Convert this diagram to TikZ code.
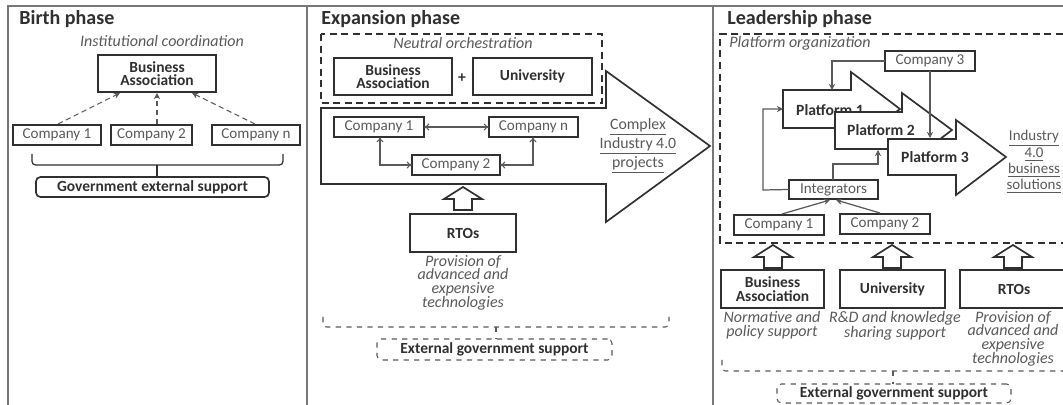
\documentclass[tikz,border=0pt]{standalone}
\usepackage{fontspec}
\setmainfont{Carlito}
\usetikzlibrary{arrows.meta}
\definecolor{ink}{HTML}{303030}
\definecolor{soft}{HTML}{5A5A5A}
\definecolor{rule}{HTML}{777777}
\tikzset{
  x=0.02cm,y=-0.02cm,
  panel/.style={draw=rule,line width=0.7pt},
  outer/.style={draw=ink,line width=0.95pt,fill=white},
  thickbox/.style={draw=ink,line width=0.95pt,fill=white,inner sep=0pt,outer sep=0pt,align=center,text=ink,font=\fontsize{8.8}{7.8}\selectfont\bfseries},
  smallbox/.style={draw=ink,line width=0.9pt,fill=white,inner sep=0pt,outer sep=0pt,align=center,text=soft,font=\fontsize{8.6}{7.8}\selectfont},
  govbox/.style={thickbox,rounded corners=2.5pt},
  dashbox/.style={thickbox,line width=0.6pt,draw=soft,dashed,rounded corners=2.5pt},
  title/.style={anchor=west,inner sep=0pt,text=ink,font=\fontsize{11.4}{12}\selectfont\bfseries},
  note/.style={inner sep=0pt,align=center,text=soft,font=\fontsize{9.1}{7.8}\selectfont\itshape},
  plain/.style={inner sep=0pt,align=center,text=soft,font=\fontsize{9}{7.8}\selectfont},
  plainsmall/.style={plain,font=\fontsize{8.5}{7.8}\selectfont},
  pftext/.style={inner sep=0pt,text=ink,font=\fontsize{8.9}{10}\selectfont\bfseries},
  dashzone/.style={draw=ink,line width=0.95pt,dash pattern=on 4pt off 2.6pt},
  brace/.style={draw=ink,line width=0.7pt,rounded corners=2pt},
  dashbrace/.style={draw=soft,line width=0.6pt,dashed,rounded corners=2pt},
  dasharrow/.style={draw=soft,line width=0.6pt,densely dashed,-{Stealth[length=3.5pt,width=3.5pt]}},
  link/.style={draw=soft,line width=0.7pt,-{Stealth[length=3.5pt,width=3.5pt]}},
  twoway/.style={draw=soft,line width=0.6pt,{To[length=3pt,width=4pt]}-{To[length=3pt,width=4pt]}},
}
\newcommand{\bx}[7][]{%
  \pgfmathsetmacro{\bxcx}{(#3+#5)/2}%
  \pgfmathsetmacro{\bxcy}{(#4+#6)/2}%
  \pgfmathsetmacro{\bxw}{(#5-#3)*0.02}%
  \pgfmathsetmacro{\bxh}{(#6-#4)*0.02}%
  \node[#1,minimum width=\bxw cm,minimum height=\bxh cm] (#2) at (\bxcx,\bxcy) {#7};}
% up arrow: centre x, tip y
\newcommand{\uparrowshape}[2]{%
  \draw[outer,line join=miter] (#1,#2) -- ++(19,12) -- ++(-10,0) -- ++(0,11) -- ++(-18,0) -- ++(0,-11) -- ++(-10,0) -- cycle;}
\begin{document}
\begin{tikzpicture}
\useasboundingbox (0,0) rectangle (1063,405);
\fill[white] (0,0) rectangle (1063,405);
% panel rules
\draw[panel] (8,405) -- (8,6) -- (1063,6);
\draw[panel] (307,6) -- (307,405);
\draw[panel] (713,6) -- (713,405);

% ---------- Birth
\node[title] (t1) at (19,19) {Birth phase};
\node[note] (n1) at (162,41) {Institutional coordination};
\bx[thickbox]{ba1}{98}{55}{216}{92}{Business\\Association}
\bx[smallbox]{c11}{13}{125}{101}{145}{Company 1}
\bx[smallbox]{c12}{111}{125}{192}{145}{Company 2}
\bx[smallbox]{c13}{212}{125}{300}{145}{Company n}
\bx[govbox]{gov1}{36}{177}{269}{197}{Government external support}
\coordinate (a11) at (58,124); \coordinate (a12) at (120,93);
\coordinate (a21) at (157,124); \coordinate (a22) at (157,93);
\coordinate (a31) at (255,124); \coordinate (a32) at (192,93);
\draw[dasharrow] (a11) -- (a12);
\draw[dasharrow] (a21) -- (a22);
\draw[dasharrow] (a31) -- (a32);
\coordinate (b1l) at (32,154); \coordinate (b1r) at (283,154); \coordinate (b1m) at (157,165);
\draw[brace] (b1l) -- (32,165) -- (283,165) -- (b1r);
\draw[brace] (b1m) -- (gov1.north -| b1m);

% ---------- Expansion
\node[title] (t2) at (321,19) {Expansion phase};
\draw[outer] (321,108) -- (606,108) -- (606,71) -- (710,146) -- (606,222) -- (606,184) -- (321,184) -- cycle;
\draw[dashzone] (321,34) rectangle (602,103);
\node[note] (n2) at (463,43) {Neutral orchestration};
\bx[thickbox]{ba2}{334}{58}{452}{95}{Business\\Association}
\node[pftext] (plus) at (462,78) {+};
\bx[thickbox]{un2}{473}{58}{592}{95}{University}
\bx[smallbox]{c21}{334}{117}{424}{137}{Company 1}
\bx[smallbox]{c2n}{489}{117}{578}{137}{Company n}
\bx[smallbox]{c22}{412}{155}{500}{175}{Company 2}
\draw[twoway] (c21.east) -- (c2n.west);
\coordinate (e1) at (380,137); \coordinate (e2) at (533,137);
\draw[twoway] (e1) |- (c22.west);
\draw[twoway] (e2) |- (c22.east);
\node[plain] (cx) at (638,146) {\underline{Complex}\\\underline{Industry 4.0}\\\underline{projects}};
\uparrowshape{463}{187}
\bx[thickbox]{rt2}{410}{214}{516}{252}{RTOs}
\node[note] (n3) at (463,282.5) {Provision of\\advanced and\\expensive\\technologies};
\coordinate (b2l) at (323,317); \coordinate (b2r) at (669,317); \coordinate (b2m) at (496,327);
\bx[dashbox]{gov2}{377}{339}{612}{360}{External government support}
\draw[dashbrace] (b2l) -- (323,327) -- (669,327) -- (b2r);
\draw[dashbrace] (b2m) -- (gov2.north -| b2m);

% ---------- Leadership
\node[title] (t3) at (727,19) {Leadership phase};
\draw[dashzone] (1063,34) -- (720,34) -- (720,243) -- (1063,243);
\node[note,anchor=west] (n4) at (729,43) {Platform organization};
\bx[smallbox]{c33}{885}{51}{975}{71}{Company 3}
% platform arrows
\draw[outer] (783,90) -- (851,90) -- (851,72) -- (900,109) -- (851,146) -- (851,128) -- (783,128) -- cycle;
\node[pftext] (p1) at (830,110) {Platform 1};
\draw[outer] (835,112) -- (902,112) -- (902,93) -- (952,130) -- (902,168) -- (902,149) -- (835,149) -- cycle;
\node[pftext] (p2) at (881,130) {Platform 2};
\draw[outer] (888,139) -- (956,139) -- (956,120) -- (1006,157) -- (956,195) -- (956,175) -- (888,175) -- cycle;
\node[pftext] (p3) at (935,157) {Platform 3};
\node[plainsmall] (ind) at (1034,161.5) {\underline{Industry}\\\underline{4.0}\\\underline{business}\\\underline{solutions}};
\bx[smallbox]{int}{789}{180}{878}{199}{Integrators}
\bx[smallbox]{c31}{734}{215}{824}{235}{Company 1}
\bx[smallbox]{c32}{840}{214}{930}{234}{Company 2}
\coordinate (i1) at (782,214); \coordinate (i2) at (830,200);
\coordinate (i3) at (880,213); \coordinate (i4) at (836,200);
\draw[link] (i1) -- (i2);
\draw[link] (i3) -- (i4);
\coordinate (p1l) at (783,109); \coordinate (p2b) at (878,150);
\coordinate (p1t) at (832,90); \coordinate (p3t) at (930,138);
\coordinate (i5) at (833,180); \coordinate (c3b) at (930,71);
\draw[link] (int.west) -- (763,190) -- (763,109) -- (p1l);
\draw[link] (i5) -- (833,164) -- (878,164) -- (p2b);
\draw[link] (c33.west) -- (832,61) -- (p1t);
\draw[link] (c3b) -- (p3t);
\uparrowshape{773}{245}
\uparrowshape{892}{245}
\uparrowshape{1013}{245}
\bx[thickbox]{ba3}{721}{270}{824}{308}{Business\\Association}
\bx[thickbox]{un3}{840}{270}{945}{308}{University}
\bx[thickbox]{rt3}{960}{270}{1068}{308}{RTOs}
\node[note] (n5) at (772,325) {Normative and\\policy support};
\node[note] (n6) at (895,326) {R\&D and knowledge\\sharing support};
\node[note] (n7) at (1013,338.5) {Provision of\\advanced and\\expensive\\technologies};
\coordinate (b3l) at (722,360); \coordinate (b3r) at (1063,360); \coordinate (b3m) at (893,371);
\bx[dashbox]{gov3}{777}{384}{1011}{403}{External government support}
\draw[dashbrace] (b3l) -- (722,371) -- (1063,371);
\draw[dashbrace] (b3m) -- (gov3.north -| b3m);
\end{tikzpicture}
\end{document}
